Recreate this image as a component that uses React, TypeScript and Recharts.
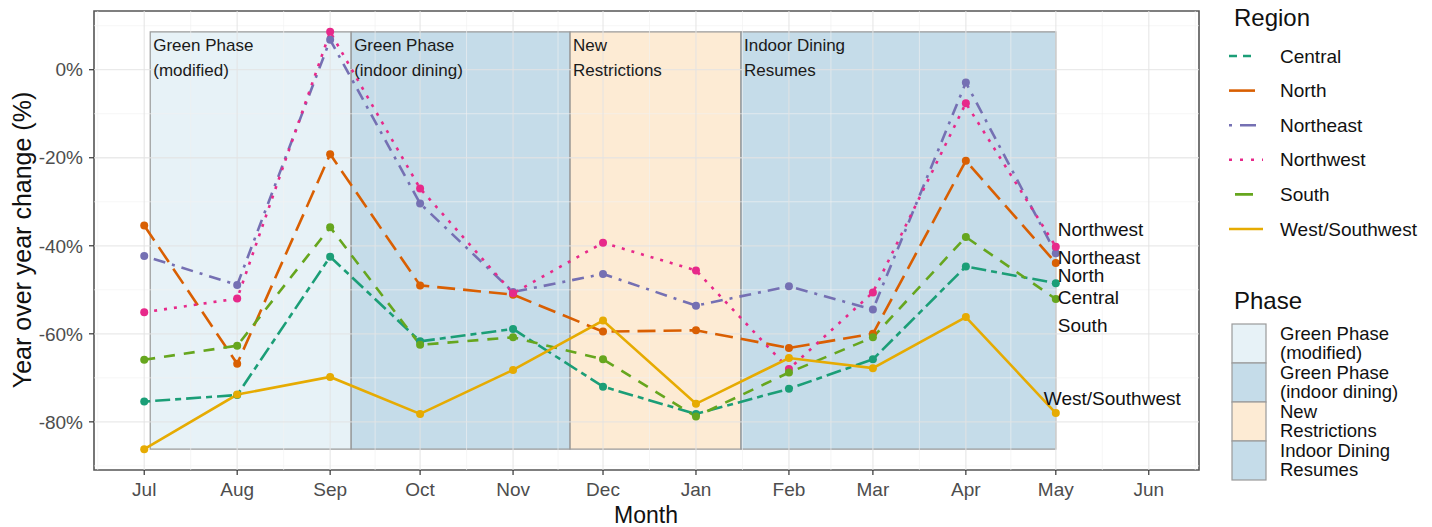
import React from 'react';
import { ComposedChart, Line, XAxis, YAxis, ReferenceArea, ReferenceLine, ReferenceDot } from 'recharts';

// ---------- data ----------
const monthDates = ['2020-07-01', '2020-08-01', '2020-09-01', '2020-10-01', '2020-11-01', '2020-12-01',
  '2021-01-01', '2021-02-01', '2021-03-01', '2021-04-01', '2021-05-01', '2021-06-01'];
const monthLabels = ['Jul', 'Aug', 'Sep', 'Oct', 'Nov', 'Dec', 'Jan', 'Feb', 'Mar', 'Apr', 'May', 'Jun'];
const observationDates = ['2020-07-01', '2020-08-01', '2020-09-01', '2020-10-01', '2020-11-01', '2020-12-01',
  '2021-01-01', '2021-02-01', '2021-03-01', '2021-04-01', '2021-05-01'];

const central = [-75.4, -73.9, -42.5, -61.7, -58.9, -72.0, -78.2, -72.5, -65.8, -44.7, -48.5];
const north = [-35.4, -66.8, -19.2, -49.0, -51.1, -59.5, -59.2, -63.2, -60.0, -20.7, -43.9];
const northeast = [-42.3, -48.9, 6.8, -30.4, -50.5, -46.4, -53.6, -49.2, -54.5, -2.9, -41.7];
const northwest = [-55.1, -52.0, 8.6, -27.0, -50.8, -39.3, -45.6, -68.0, -50.6, -7.6, -40.2];
const south = [-65.9, -62.7, -35.8, -62.5, -60.8, -65.8, -78.8, -68.8, -60.8, -38.0, -52.1];
const westSouthwest = [-86.2, -73.8, -69.8, -78.2, -68.2, -57.0, -75.9, -65.5, -67.8, -56.2, -78.0];

const regionNames = ['Central', 'North', 'Northeast', 'Northwest', 'South', 'West/Southwest'];
const regionValues = [central, north, northeast, northwest, south, westSouthwest];

const phaseNames = [['Green Phase', '(modified)'], ['Green Phase', '(indoor dining)'], ['New', 'Restrictions'], ['Indoor Dining', 'Resumes']];
const phaseStarts = ['2020-07-03', '2020-09-08', '2020-11-20', '2021-01-16'];
const phaseEnds = ['2020-09-08', '2020-11-20', '2021-01-16', '2021-05-01'];

const yTicks = [-80, -60, -40, -20, 0];
const yMinorTicks = [-90, -70, -50, -30, -10, 10];

// ---------- styles ----------
const FONT = '"Liberation Sans", Arial, Helvetica, sans-serif';
const regionColors = ['#1B9E77', '#D95F02', '#7570B3', '#E7298A', '#66A61E', '#E6AB02'];
const regionDash = ['6 5 15 5', '18 8', '3 7 12 7', '3 7', '11 9', undefined];
const legendDash = ['8 6 8 12', '26 8', '3 8 16 8', '3 8', '0 6 18 10', undefined];
const phaseFills = ['#cfe6f0', '#8bb9d3', '#fbd8a9', '#8bb9d3'];
const PHASE_OPACITY = 0.5;
// pixel offsets of the repelled end labels relative to the last point
const endLabelDx = [2, 2, 2, 2, 2, -12];
const endLabelDy = [13.9, 12.8, 3.8, -17.6, 26.8, -14.2];

// ---------- derived ----------
const DAY = 86400000;
const origin = Date.parse(monthDates[0]);
const toDay = (d: string) => (Date.parse(d) - origin) / DAY;
const monthDays = monthDates.map(toDay);
const minorDays: number[] = [];
for (let i = 0; i < monthDays.length - 1; i++) minorDays.push((monthDays[i] + monthDays[i + 1]) / 2);
minorDays.unshift(monthDays[0] - (monthDays[1] - monthDays[0]) / 2);
minorDays.push(monthDays[monthDays.length - 1] + (monthDays[1] - monthDays[0]) / 2);

const rows = observationDates.map((d, i) => {
  const r: any = { day: toDay(d) };
  regionNames.forEach((n, k) => { r[n] = regionValues[k][i]; });
  return r;
});

const allVals = regionValues.flat();
const dataMax = Math.max(...allVals);
const dataMin = Math.min(...allVals);
const ySpan = dataMax - dataMin;
const yDomain: [number, number] = [dataMin - 0.05 * ySpan, dataMax + 0.05 * ySpan];
const xSpan = monthDays[monthDays.length - 1] - monthDays[0];
const xDomain: [number, number] = [monthDays[0] - 0.05 * xSpan, monthDays[monthDays.length - 1] + 0.05 * xSpan];

const monthLabelOf = (v: number) => {
  const i = monthDays.indexOf(v);
  return i >= 0 ? monthLabels[i] : '';
};

const lastIdx = observationDates.length - 1;

export default function App() {
  return (
    <div style={{ position: 'relative', width: 1432, height: 527, background: '#fff' }}>
      <style>{'body{margin:0;background:#fff}'}</style>
      <ComposedChart width={1432} height={527} data={rows} margin={{ top: 11, right: 233, bottom: 0, left: 0 }}>
        <XAxis type="number" dataKey="day" domain={xDomain} allowDataOverflow ticks={monthDays} interval={0}
          tickFormatter={monthLabelOf} axisLine={false} tickSize={5} tickMargin={8} height={57}
          tickLine={{ stroke: '#333', strokeWidth: 1.2 }}
          tick={{ fill: '#4d4d4d', fontSize: 19, fontFamily: FONT }} />
        <YAxis type="number" domain={yDomain} allowDataOverflow ticks={yTicks} interval={0} width={94}
          tickFormatter={(v: number) => `${v}%`} axisLine={false} tickSize={5} tickMargin={6}
          tickLine={{ stroke: '#333', strokeWidth: 1.2 }}
          tick={{ fill: '#4d4d4d', fontSize: 19, fontFamily: FONT }} />
        {minorDays.map((d) => (
          <ReferenceLine key={'mx' + d} x={d} stroke="#f1f1f1" strokeOpacity={0.8} strokeWidth={0.8} ifOverflow="hidden" />
        ))}
        {yMinorTicks.map((v) => (
          <ReferenceLine key={'my' + v} y={v} stroke="#f1f1f1" strokeOpacity={0.8} strokeWidth={0.8} ifOverflow="hidden" />
        ))}
        {monthDays.map((d) => (
          <ReferenceLine key={'Mx' + d} x={d} stroke="#e3e3e3" strokeOpacity={0.75} strokeWidth={1.3} ifOverflow="hidden" />
        ))}
        {yTicks.map((v) => (
          <ReferenceLine key={'My' + v} y={v} stroke="#e3e3e3" strokeOpacity={0.75} strokeWidth={1.3} ifOverflow="hidden" />
        ))}
        {phaseStarts.map((s, i) => (
          <ReferenceArea key={'ph' + i} x1={toDay(s)} x2={toDay(phaseEnds[i])} y1={dataMin} y2={dataMax}
            fill={phaseFills[i]} fillOpacity={PHASE_OPACITY} stroke="#9a9a9a" strokeWidth={1.2} strokeOpacity={1}
            ifOverflow="visible" />
        ))}
        {regionNames.map((n, k) => (
          <Line key={n} type="linear" dataKey={n} stroke={regionColors[k]} strokeWidth={2.6}
            strokeDasharray={regionDash[k]} isAnimationActive={false} activeDot={false}
            dot={{ r: 4, fill: regionColors[k], stroke: 'none', strokeWidth: 0, strokeDasharray: undefined }} />
        ))}
        {phaseStarts.map((s, i) => (
          <ReferenceDot key={'phl' + i} x={toDay(s)} y={dataMax} ifOverflow="visible"
            shape={(p: any) => (
              <text x={p.cx + 3} y={p.cy + 13} fontSize={17} fontFamily={FONT} fill="#1a1a1a" dominantBaseline="central">
                {phaseNames[i].map((l, j) => (
                  <tspan key={j} x={p.cx + 3} dy={j === 0 ? 0 : 25}>{l}</tspan>
                ))}
              </text>
            )} />
        ))}
        {regionNames.map((n, k) => (
          <ReferenceDot key={'lab' + n} x={rows[lastIdx].day} y={regionValues[k][lastIdx]} ifOverflow="visible"
            shape={(p: any) => (
              <text x={p.cx + endLabelDx[k]} y={p.cy + endLabelDy[k]} fontSize={19} fontFamily={FONT}
                fill="#111" dominantBaseline="central">{n}</text>
            )} />
        ))}
        <ReferenceArea x1={xDomain[0]} x2={xDomain[1]} y1={yDomain[0]} y2={yDomain[1]} fill="none"
          stroke="#555" strokeWidth={1.6} ifOverflow="visible" />
      </ComposedChart>
      <svg width={1432} height={527} style={{ position: 'absolute', left: 0, top: 0, pointerEvents: 'none' }}>
        <text x={22} y={240} fontSize={25} fontFamily={FONT} fill="#111" textAnchor="middle"
          dominantBaseline="central" transform="rotate(-90 22 240)">Year over year change (%)</text>
        <text x={646} y={515} fontSize={23} fontFamily={FONT} fill="#111" textAnchor="middle"
          dominantBaseline="central">Month</text>
        <text x={1234} y={17} fontSize={24} fontFamily={FONT} fill="#111" dominantBaseline="central">Region</text>
        {regionNames.map((n, k) => (
          <g key={'lg' + n}>
            <line x1={1229} x2={1263} y1={56 + 34.6 * k} y2={56 + 34.6 * k} stroke={regionColors[k]} strokeWidth={2.6}
              strokeDasharray={legendDash[k]} />
            <text x={1280} y={56 + 34.6 * k} fontSize={19} fontFamily={FONT} fill="#111" dominantBaseline="central">{n}</text>
          </g>
        ))}
        <text x={1234} y={300} fontSize={24} fontFamily={FONT} fill="#111" dominantBaseline="central">Phase</text>
        {phaseNames.map((lines, i) => (
          <g key={'pl' + i}>
            <rect x={1232} y={324 + 39 * i} width={34} height={39} fill="#fff" />
            <rect x={1232} y={324 + 39 * i} width={34} height={39} fill={phaseFills[i]} fillOpacity={PHASE_OPACITY}
              stroke="#9a9a9a" strokeWidth={1.2} />
            {lines.map((l, j) => (
              <text key={j} x={1280} y={333 + 39 * i + 19.5 * j} fontSize={18.5} fontFamily={FONT} fill="#111"
                dominantBaseline="central">{l}</text>
            ))}
          </g>
        ))}
      </svg>
    </div>
  );
}
